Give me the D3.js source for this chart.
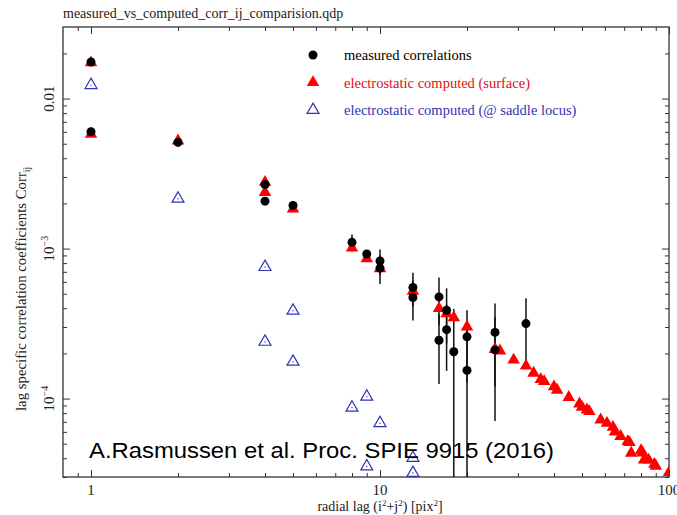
<!DOCTYPE html>
<html>
<head>
<meta charset="utf-8">
<script src="https://cdn.jsdelivr.net/npm/d3@7"></script>
<style>
  body { margin: 0; background: #fff; }
  svg { display: block; }
</style>
</head>
<body>
<div id="chart"></div>
<script>
// ---- data ----
const title = "measured_vs_computed_corr_ij_comparision.qdp";
const legendLabels = ["measured correlations", "electrostatic computed (surface)", "electrostatic computed (@ saddle locus)"];
const credit = "A.Rasmussen et al. Proc. SPIE 9915 (2016)";

// measured correlations (with 1-sigma errors)
const measLag  = [1, 1, 2, 4, 4, 5, 8, 9, 10, 10, 13, 13, 16, 16, 17, 17, 18, 20, 20, 25, 25, 32];
const measCorr = [0.01754, 0.00601, 0.0051, 0.00267, 0.00207, 0.00194, 0.0011, 0.00092, 0.000826, 0.00074,
                  0.00055, 0.000472, 0.000476, 0.000245, 0.000388, 0.000288, 0.000205, 0.000258, 0.000154,
                  0.000276, 0.000211, 0.000316];
const measErr  = [0.0003, 0.0002, 0.0001, 0.00008, 0.00008, 0.00008, 0.00014, 0.00006, 0.00016, 0.00016,
                  0.00014, 0.00014, 0.000165, 0.00012, 0.000155, 0.000135, 0.00019, 0.00013, 0.00014,
                  0.000155, 0.00014, 0.00015];

// electrostatic computed, surface
const surfLag  = [1, 1, 2, 4, 4, 5, 8, 9, 10, 13, 16, 17, 18, 20, 25, 26, 29, 32, 34, 36, 37, 40, 41, 45,
                  49, 50, 52, 53, 58, 61, 64, 65, 68, 72, 73, 74, 80, 81, 82, 85, 89, 90, 100];
const surfCorr = [0.01736, 0.0058, 0.00523, 0.00277, 0.00237, 0.00184, 0.00101, 0.000858, 0.000735, 0.00052,
                  0.000399, 0.000369, 0.000347, 0.000301, 0.000213, 0.000208, 0.000181, 0.000165, 0.000148,
                  0.000134, 0.00013, 0.00012, 0.000114, 0.000102, 0.0000922, 0.0000877, 0.0000842, 0.000082,
                  0.0000722, 0.0000685, 0.0000645, 0.00006, 0.000056, 0.0000518, 0.000051, 0.0000433,
                  0.000045, 0.0000435, 0.000039, 0.000039, 0.0000365, 0.0000355, 0.0000322];

// electrostatic computed, saddle locus
const saddleLag  = [1, 2, 4, 4, 5, 5, 8, 9, 9, 10, 13, 13];
const saddleCorr = [0.0123, 0.00215, 0.000753, 0.000239, 0.000385, 0.000176, 0.000087, 0.000103, 0.0000353,
                    0.0000685, 0.0000402, 0.0000319];

const xMajor = [1, 10, 100];
const xMinor = [0.9, 2, 3, 4, 5, 6, 7, 8, 9, 20, 30, 40, 50, 60, 70, 80, 90];
const yMajor = [0.01, 1e-3, 1e-4];
const yTickText = [["0.01", ""], ["10", "−3"], ["10", "−4"]];
const yMinor = [3e-5, 4e-5, 5e-5, 6e-5, 7e-5, 8e-5, 9e-5, 2e-4, 3e-4, 4e-4, 5e-4, 6e-4, 7e-4, 8e-4, 9e-4,
                2e-3, 3e-3, 4e-3, 5e-3, 6e-3, 7e-3, 8e-3, 9e-3, 0.02];

// ---- layout ----
const W = 677, H = 515;
const L = 63, R = 669, T = 27, B = 477;
const serif = "'Liberation Serif', 'DejaVu Serif', serif";

const x = d3.scaleLog().domain([0.8, 100]).range([L, R]);
const y = d3.scaleLog().domain([3e-5, 0.03]).range([B, T]);

const svg = d3.select("#chart").append("svg").attr("width", W).attr("height", H);

svg.append("defs").append("clipPath").attr("id", "plotclip")
  .append("rect").attr("x", L).attr("y", T).attr("width", R - L).attr("height", B - T);

// title
svg.append("text").attr("x", L).attr("y", 18)
  .style("font-family", serif).style("font-size", "14px").attr("fill", "#222")
  .text(title);

// axes, ticks point inward on all four sides
function tickAxis(axisFn, scale, vals, len, tr) {
  svg.append("g").attr("transform", tr)
    .call(axisFn(scale).tickValues(vals).tickSize(-len).tickFormat(""))
    .call(g => g.select(".domain").remove())
    .call(g => g.selectAll("line").attr("stroke", "#333").attr("stroke-width", 1));
}
tickAxis(d3.axisBottom, x, xMajor, 7, `translate(0,${B})`);
tickAxis(d3.axisBottom, x, xMinor, 4, `translate(0,${B})`);
tickAxis(d3.axisTop, x, xMajor, 7, `translate(0,${T})`);
tickAxis(d3.axisTop, x, xMinor, 4, `translate(0,${T})`);
tickAxis(d3.axisLeft, y, yMajor, 7, `translate(${L},0)`);
tickAxis(d3.axisLeft, y, yMinor, 4, `translate(${L},0)`);
tickAxis(d3.axisRight, y, yMajor, 7, `translate(${R},0)`);
tickAxis(d3.axisRight, y, yMinor, 4, `translate(${R},0)`);

svg.append("rect").attr("x", L).attr("y", T).attr("width", R - L).attr("height", B - T)
  .attr("fill", "none").attr("stroke", "#333").attr("stroke-width", 1.3);

// x tick labels
svg.append("g").selectAll("text").data(xMajor).join("text")
  .attr("x", d => x(d)).attr("y", B + 18)
  .attr("text-anchor", "middle")
  .style("font-family", serif).style("font-size", "15px").attr("fill", "#222")
  .text(d => d3.format("d")(d));

// y tick labels, rotated
const yl = svg.append("g").selectAll("text").data(yMajor).join("text")
  .attr("transform", d => `translate(54,${y(d)}) rotate(-90)`)
  .attr("text-anchor", "middle")
  .style("font-family", serif).style("font-size", "15px").attr("fill", "#222");
yl.each(function (d, i) {
  const t = d3.select(this);
  t.append("tspan").text(yTickText[i][0]);
  if (yTickText[i][1]) t.append("tspan").attr("dy", -6).style("font-size", "10px").text(yTickText[i][1]);
});

// axis titles
const xt = svg.append("text").attr("x", 380).attr("y", 511).attr("text-anchor", "middle")
  .style("font-family", serif).style("font-size", "14px").attr("fill", "#222");
xt.append("tspan").text("radial lag (i");
xt.append("tspan").attr("dy", -5).style("font-size", "9px").text("2");
xt.append("tspan").attr("dy", 5).text("+j");
xt.append("tspan").attr("dy", -5).style("font-size", "9px").text("2");
xt.append("tspan").attr("dy", 5).text(") [pix");
xt.append("tspan").attr("dy", -5).style("font-size", "9px").text("2");
xt.append("tspan").attr("dy", 5).text("]");

const yt = svg.append("text").attr("transform", "translate(26,411) rotate(-90)")
  .style("font-family", serif).style("font-size", "14.8px").attr("fill", "#222");
yt.append("tspan").text("lag specific correlation coefficients Corr");
yt.append("tspan").attr("dy", 4).style("font-size", "9.5px").text("ij");

// ---- marks ----
const plot = svg.append("g").attr("clip-path", "url(#plotclip)");
const meas = measLag.map((d, i) => ({ lag: d, v: measCorr[i], e: measErr[i] }));
const surf = surfLag.map((d, i) => ({ lag: d, v: surfCorr[i] }));
const saddle = saddleLag.map((d, i) => ({ lag: d, v: saddleCorr[i] }));

const red = "#ff0000", blue = "#3232b4";
const triFill = d3.symbol(d3.symbolTriangle, 68);
const triOpen = d3.symbol(d3.symbolTriangle, 62);

// error bars
plot.append("g").selectAll("line").data(meas).join("line")
  .attr("x1", d => x(d.lag)).attr("x2", d => x(d.lag))
  .attr("y1", d => y(d.v + d.e))
  .attr("y2", d => d.v - d.e > 0 ? y(d.v - d.e) : B + 5)
  .attr("stroke", "#111").attr("stroke-width", 1.5);

plot.append("g").selectAll("path").data(surf).join("path")
  .attr("d", triFill)
  .attr("transform", d => `translate(${x(d.lag)},${y(d.v)})`)
  .attr("fill", red);

plot.append("g").selectAll("circle").data(meas).join("circle")
  .attr("cx", d => x(d.lag)).attr("cy", d => y(d.v)).attr("r", 4.5)
  .attr("fill", "#000");

const sg = plot.append("g").selectAll("g").data(saddle).join("g")
  .attr("transform", d => `translate(${x(d.lag)},${y(d.v)})`);
sg.append("path").attr("d", triOpen).attr("fill", "none").attr("stroke", blue).attr("stroke-width", 1.2);
sg.append("circle").attr("r", 0.7).attr("fill", blue);

// legend
const legColors = ["#000", "#dd1010", "#3232b4"];
const lg = svg.append("g").selectAll("g").data(legendLabels).join("g")
  .attr("transform", (d, i) => `translate(313,${55 + i * 27.5})`);
lg.each(function (d, i) {
  const g = d3.select(this);
  if (i === 0) g.append("circle").attr("r", 4.5).attr("fill", "#000");
  if (i === 1) g.append("path").attr("d", triFill).attr("fill", red);
  if (i === 2) g.append("path").attr("d", triOpen).attr("fill", "none").attr("stroke", blue).attr("stroke-width", 1.2);
  g.append("text").attr("x", 31).attr("y", 5)
    .style("font-family", serif).style("font-size", "14.5px").attr("fill", legColors[i])
    .text(d);
});

// credit line
svg.append("text").attr("x", 89).attr("y", 458)
  .attr("textLength", 465).attr("lengthAdjust", "spacingAndGlyphs")
  .style("font-family", "'Liberation Sans', Arial, sans-serif").style("font-size", "21.5px").attr("fill", "#000")
  .text(credit);
</script>
</body>
</html>
